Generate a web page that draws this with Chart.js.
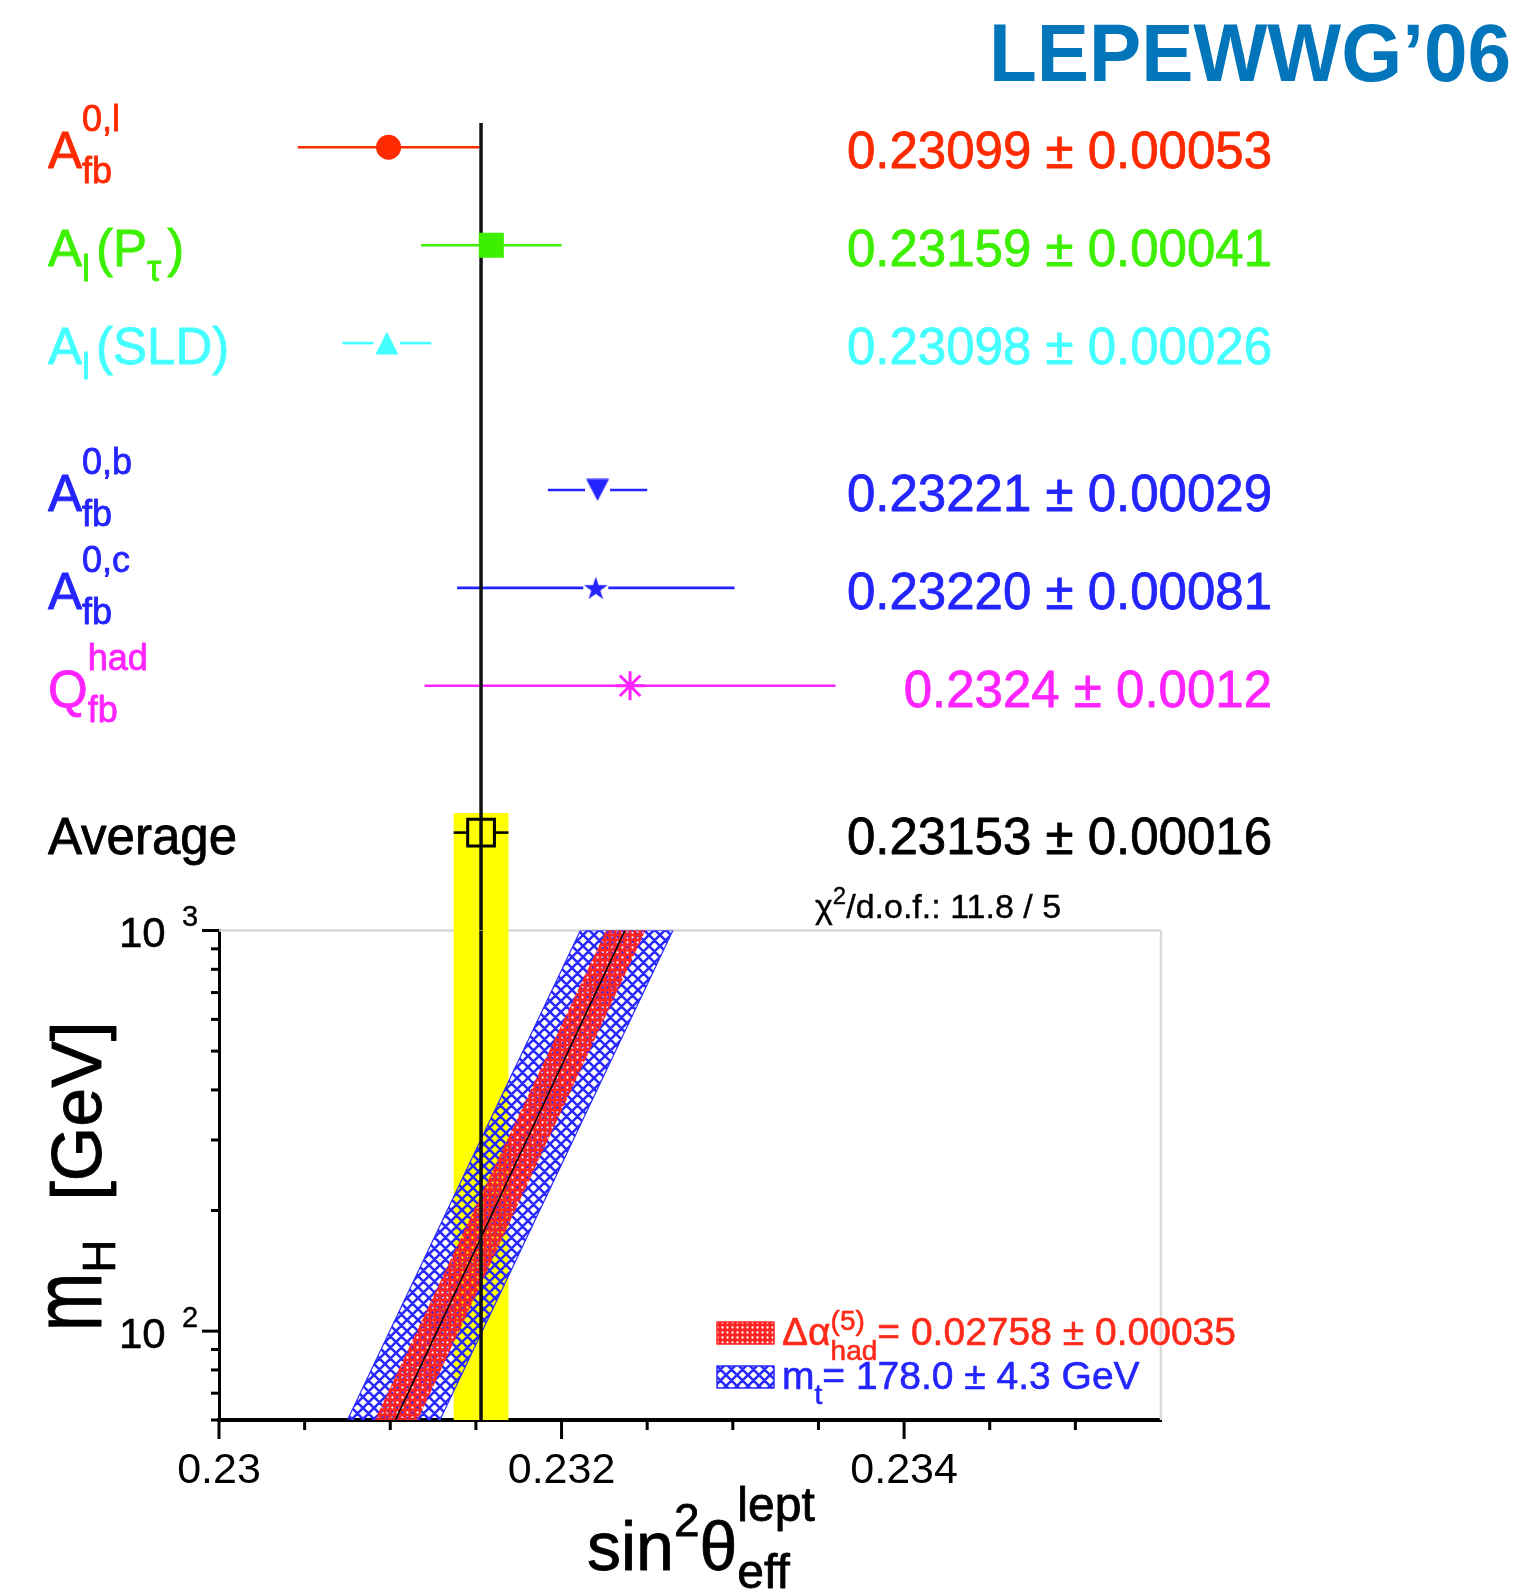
<!DOCTYPE html>
<html>
<head>
<meta charset="utf-8">
<title>sin2theta_eff^lept measurements and m_H dependence</title>
<script src="https://cdn.jsdelivr.net/npm/chart.js@4.4.1/dist/chart.umd.min.js"></script>
<style>
  html, body { margin: 0; padding: 0; background: #ffffff; }
  #wrap { position: relative; width: 1523px; height: 1593px; }
  canvas { display: block; }
</style>
</head>
<body>
<div id="wrap"><canvas id="chart" width="1523" height="1593"></canvas></div>
<script>
// ---------------------------------------------------------------------------
// Measurements of sin^2(theta_eff^lept)
// ---------------------------------------------------------------------------
const measurementLabels = [
  [['A'], ['fb', 'sub'], ['0,l', 'sup']],
  [['A'], ['l', 'sub'], ['(P'], ['τ', 'sub'], [')']],
  [['A'], ['l', 'sub'], ['(SLD)']],
  [['A'], ['fb', 'sub'], ['0,b', 'sup']],
  [['A'], ['fb', 'sub'], ['0,c', 'sup']],
  [['Q'], ['fb', 'sub'], ['had', 'sup']],
  [['Average']]
];
const measurementValues   = [0.23099, 0.23159, 0.23098, 0.23221, 0.23220, 0.2324, 0.23153];
const measurementErrors   = [0.00053, 0.00041, 0.00026, 0.00029, 0.00081, 0.0012, 0.00016];
const measurementDecimals = [5, 5, 5, 5, 5, 4, 5];
const measurementRows     = [0, 1, 2, 3.5, 4.5, 5.5, 7];
const AVERAGE_INDEX = 6;

// ---------------------------------------------------------------------------
// Standard Model prediction versus the Higgs mass (band edges at the mass ends)
// ---------------------------------------------------------------------------
const higgsMassRange   = [60, 1000];
const predictionCentre = [0.23103, 0.23237];
const alphaBandLow     = [0.23091, 0.23226];
const alphaBandHigh    = [0.23116, 0.23249];
const topBandLow       = [0.23075, 0.23211];
const topBandHigh      = [0.23129, 0.23265];

const chi2 = 11.8;
const degreesOfFreedom = 5;
const deltaAlphaHad = [0.02758, 0.00035];
const topMass = [178.0, 4.3];

// Axis ticks
const sinTickValues = [0.23, 0.2305, 0.231, 0.2315, 0.232, 0.2325, 0.233, 0.2335, 0.234, 0.2345, 0.235];
const sinTickLabels = ['0.23', '', '', '', '0.232', '', '', '', '0.234', '', ''];
const massTickValues = [60, 70, 80, 90, 100, 200, 300, 400, 500, 600, 700, 800, 900, 1000];
const massDecadeValues = [100, 1000];
const massDecadeExponents = ['2', '3'];

// ---------------------------------------------------------------------------
// Styling
// ---------------------------------------------------------------------------
const FONT = '"Liberation Sans", Arial, Helvetica, sans-serif';
const rowColors = ['#ff2a00', '#3cf000', '#44ffff', '#2424ff', '#2424ff', '#ff24ff', '#000000'];
const ROW_MIN = -0.25, ROW_MAX = 8;
const SIN_MIN = 0.23, SIN_MAX = 0.2355;
const BAND_RED = '#ff2424';
const BAND_BLUE = '#2a2aff';

const canvas = document.getElementById('chart');
const mainCtx = canvas.getContext('2d');

function makeTile(w, h, draw) {
  const c = document.createElement('canvas');
  c.width = w; c.height = h;
  draw(c.getContext('2d'), w, h);
  return c;
}

// dotted red fill for the delta-alpha band
const redPattern = mainCtx.createPattern(makeTile(5, 5, (g, w, h) => {
  g.fillStyle = BAND_RED; g.fillRect(0, 0, w, h);
  g.globalCompositeOperation = 'destination-out';
  g.beginPath(); g.arc(2.5, 2.5, 1.15, 0, Math.PI * 2); g.fill();
}), 'repeat');

// cross-hatched blue fill for the top-mass band
const bluePattern = mainCtx.createPattern(makeTile(11, 11, (g, w, h) => {
  g.strokeStyle = BAND_BLUE; g.lineWidth = 2.6;
  g.beginPath();
  for (const o of [-w, 0, w]) {
    g.moveTo(o, 0); g.lineTo(o + w, h);
    g.moveTo(o + w, 0); g.lineTo(o, h);
  }
  g.stroke();
}), 'repeat');

// marker images
const triangleUp = makeTile(24, 24, (g) => {
  g.fillStyle = rowColors[2];
  g.beginPath(); g.moveTo(12, 0.5); g.lineTo(23.5, 23.5); g.lineTo(0.5, 23.5); g.closePath(); g.fill();
});
const triangleDown = makeTile(24, 23, (g) => {
  g.fillStyle = rowColors[3];
  g.beginPath(); g.moveTo(0.5, 0.5); g.lineTo(23.5, 0.5); g.lineTo(12, 22.5); g.closePath(); g.fill();
});
const filledStar = makeTile(26, 24, (g) => {
  const R = 12.5, r = R * 0.382, cx = 13, cy = 13.2;
  g.fillStyle = rowColors[4];
  g.beginPath();
  for (let k = 0; k < 10; k++) {
    const rad = (k % 2 === 0) ? R : r;
    const a = -Math.PI / 2 + k * Math.PI / 5;
    const px = cx + rad * Math.cos(a), py = cy + rad * Math.sin(a);
    if (k === 0) g.moveTo(px, py); else g.lineTo(px, py);
  }
  g.closePath(); g.fill();
});

const markerStyles = [
  { style: 'circle', radius: 12.5, fill: rowColors[0], stroke: rowColors[0], width: 0 },
  { style: 'rect', radius: 17.7, fill: rowColors[1], stroke: rowColors[1], width: 0 },
  { style: triangleUp, radius: 12, fill: rowColors[2], stroke: rowColors[2], width: 0 },
  { style: triangleDown, radius: 12, fill: rowColors[3], stroke: rowColors[3], width: 0 },
  { style: filledStar, radius: 12, fill: rowColors[4], stroke: rowColors[4], width: 0 },
  { style: 'star', radius: 14.5, fill: 'rgba(0,0,0,0)', stroke: rowColors[5], width: 3 },
  { style: 'rect', radius: 18.9, fill: 'rgba(0,0,0,0)', stroke: '#000000', width: 3 }
];
const markerGaps = [0, 0, 13.3, 12.5, 12.5, 0, 13.5];

// ---------------------------------------------------------------------------
// Text helpers. Glyphs get a thin outline in their own colour for a slightly
// heavier stroke. In rich text a sub right after a sup (or the other way
// round) is stacked at the same x.
// ---------------------------------------------------------------------------
function paintText(ctx, text, x, y, weight) {
  ctx.fillText(text, x, y);
  if (weight > 0) {
    ctx.lineWidth = weight; ctx.lineJoin = 'round';
    ctx.strokeStyle = ctx.fillStyle;
    ctx.strokeText(text, x, y);
  }
}

function drawRich(ctx, parts, x, y, cfg) {
  let cx = x, scriptStart = x, lastMode = 'n', scriptEnd = x;
  const weight = cfg.weight || 0;
  for (const part of parts) {
    const text = part[0], mode = part[1] || 'n';
    const size = part[3] || (mode === 'n' ? cfg.size : (mode === 'sub' ? cfg.subSize : cfg.supSize));
    const dy = part[2] !== undefined ? part[2] : (mode === 'sub' ? cfg.subDy : (mode === 'sup' ? cfg.supDy : 0));
    ctx.font = `${size}px ${FONT}`;
    const w = ctx.measureText(text).width;
    if (mode !== 'n') {
      if (lastMode !== 'n' && lastMode !== mode) {
        paintText(ctx, text, scriptStart, y + dy, weight);
        scriptEnd = Math.max(scriptEnd, scriptStart + w);
        cx = scriptEnd;
      } else {
        scriptStart = cx;
        paintText(ctx, text, cx, y + dy, weight);
        cx += w; scriptEnd = cx;
      }
    } else {
      if (lastMode !== 'n') cx += (cfg.scriptGap || 0);
      paintText(ctx, text, cx, y, weight);
      cx += w;
    }
    lastMode = mode;
  }
  return cx;
}

function strokeLine(ctx, x1, y1, x2, y2) {
  ctx.beginPath(); ctx.moveTo(x1, y1); ctx.lineTo(x2, y2); ctx.stroke();
}

// ---------------------------------------------------------------------------
// Plugin: frame, average band, error bars, ticks and all annotation text
// ---------------------------------------------------------------------------
const decorations = {
  id: 'decorations',
  beforeDatasetsDraw(chart) {
    const ctx = chart.ctx;
    const xs = chart.scales.x, yr = chart.scales.yRow, yl = chart.scales.yLog;
    ctx.save();
    // light frame of the lower panel
    ctx.strokeStyle = '#d9d9d9'; ctx.lineWidth = 2.5;
    strokeLine(ctx, yl.right, yl.top, xs.right, yl.top);
    strokeLine(ctx, xs.right, yl.top, xs.right, yl.bottom);

    // average +/- error band
    const avg = measurementValues[AVERAGE_INDEX], avgErr = measurementErrors[AVERAGE_INDEX];
    const bx1 = xs.getPixelForValue(avg - avgErr), bx2 = xs.getPixelForValue(avg + avgErr);
    const bTop = yr.getPixelForValue(measurementRows[AVERAGE_INDEX] - 0.2);
    ctx.fillStyle = '#ffff00';
    ctx.fillRect(bx1, bTop, bx2 - bx1, yl.bottom - bTop);

    // horizontal error bars, interrupted behind open markers
    ctx.lineWidth = 2.6; ctx.lineCap = 'butt';
    measurementValues.forEach((v, i) => {
      const py = yr.getPixelForValue(measurementRows[i]);
      const lo = xs.getPixelForValue(v - measurementErrors[i]);
      const hi = xs.getPixelForValue(v + measurementErrors[i]);
      const c = xs.getPixelForValue(v);
      const gap = markerGaps[i];
      ctx.strokeStyle = rowColors[i];
      if (c - gap > lo) strokeLine(ctx, lo, py, c - gap, py);
      if (hi > c + gap) strokeLine(ctx, c + gap, py, hi, py);
    });
    ctx.restore();
  },
  afterDraw(chart) {
    const ctx = chart.ctx;
    const xs = chart.scales.x, yr = chart.scales.yRow, yl = chart.scales.yLog;
    ctx.save();
    ctx.textBaseline = 'alphabetic';

    // tick marks
    ctx.strokeStyle = '#000'; ctx.lineWidth = 3;
    sinTickValues.forEach((v, i) => {
      const px = xs.getPixelForValue(v);
      strokeLine(ctx, px, xs.top, px, xs.top + (sinTickLabels[i] ? 19 : 10));
    });
    massTickValues.forEach((v) => {
      const py = yl.getPixelForValue(v);
      const major = massDecadeValues.includes(v);
      strokeLine(ctx, yl.right - (major ? 17 : 8), py, yl.right, py);
    });

    // decade labels of the mass axis
    ctx.fillStyle = '#000'; ctx.textAlign = 'left';
    massDecadeValues.forEach((v, i) => {
      const py = yl.getPixelForValue(v);
      ctx.font = `42px ${FONT}`;
      paintText(ctx, '10', 119, py + 17, 0.5);
      ctx.font = `29px ${FONT}`;
      paintText(ctx, massDecadeExponents[i], 182, py - 4, 0.4);
    });

    // title
    ctx.fillStyle = '#0376bb'; ctx.textAlign = 'right';
    ctx.font = `bold 81px ${FONT}`;
    ctx.fillText('LEPEWWG\u201906', 1511, 81, 522);

    // row labels and values
    measurementValues.forEach((v, i) => {
      const py = yr.getPixelForValue(measurementRows[i]);
      ctx.fillStyle = rowColors[i];
      ctx.textAlign = 'left';
      drawRich(ctx, measurementLabels[i], 48, py + 21,
        { size: 51, subSize: 36, supSize: 36, subDy: 15, supDy: -37, scriptGap: 6, weight: 0.8 });
      ctx.textAlign = 'right';
      ctx.font = `51px ${FONT}`;
      const d = measurementDecimals[i];
      paintText(ctx, `${v.toFixed(d)} \u00b1 ${measurementErrors[i].toFixed(d)}`, 1272, py + 21, 0.8);
    });

    // fit quality
    ctx.textAlign = 'left'; ctx.fillStyle = '#000';
    drawRich(ctx, [['χ'], ['2', 'sup'], [`/d.o.f.: ${chi2.toFixed(1)} / ${degreesOfFreedom}`]],
      815, yl.top - 12, { size: 34, subSize: 24, supSize: 24, subDy: 8, supDy: -14, weight: 0.4 });

    // legend
    const legendRows = [
      { fill: redPattern, edge: BAND_RED, color: '#ff2a1a', y: 1345,
        parts: [['Δα'], ['(5)', 'sup'], ['had', 'sub'],
                [`= ${deltaAlphaHad[0].toFixed(5)} \u00b1 ${deltaAlphaHad[1].toFixed(5)}`]] },
      { fill: bluePattern, edge: BAND_BLUE, color: '#2424ff', y: 1389,
        parts: [['m'], ['t', 'sub'], [`= ${topMass[0].toFixed(1)} \u00b1 ${topMass[1].toFixed(1)} GeV`]] }
    ];
    legendRows.forEach((row) => {
      ctx.fillStyle = '#ffffff';
      ctx.fillRect(717, row.y - 23, 57, 22);
      ctx.fillStyle = row.fill;
      ctx.fillRect(717, row.y - 23, 57, 22);
      ctx.strokeStyle = row.edge; ctx.lineWidth = 1.5;
      ctx.strokeRect(717, row.y - 23, 57, 22);
      ctx.fillStyle = row.color;
      drawRich(ctx, row.parts, 782, row.y,
        { size: 39, subSize: 28, supSize: 28, subDy: 15, supDy: -15, weight: 0.6 });
    });

    // x axis title
    ctx.fillStyle = '#000';
    drawRich(ctx, [['sin'], ['2', 'sup', -34, 46], ['θ'], ['lept', 'sup', -49], ['eff', 'sub', 18]],
      587, 1570, { size: 68, subSize: 48, supSize: 48, subDy: 18, supDy: -49, weight: 0.8 });

    // y axis title (the m is drawn taller, as in the original typesetting)
    ctx.translate(101, 1331);
    ctx.rotate(-Math.PI / 2);
    ctx.font = `70px ${FONT}`;
    let pos = 0;
    ctx.save(); ctx.scale(1, 1.4); paintText(ctx, 'm', 0, 0, 0.7); ctx.restore();
    pos += ctx.measureText('m').width;
    ctx.font = `46px ${FONT}`;
    paintText(ctx, 'H', pos, 14, 0.7);
    pos += ctx.measureText('H').width;
    ctx.font = `70px ${FONT}`;
    paintText(ctx, '  [GeV]', pos, 0, 0.9);
    ctx.restore();
  }
};

// ---------------------------------------------------------------------------
// Datasets
// ---------------------------------------------------------------------------
const datasets = [];

measurementValues.forEach((v, i) => {
  const m = markerStyles[i];
  datasets.push({
    type: 'scatter',
    label: measurementLabels[i].map(p => p[0]).join(''),
    xAxisID: 'x', yAxisID: 'yRow',
    data: [{ x: v, y: measurementRows[i] }],
    pointStyle: m.style, pointRadius: m.radius,
    backgroundColor: m.fill, borderColor: m.stroke, borderWidth: m.width,
    order: 0
  });
});

const average = measurementValues[AVERAGE_INDEX];
datasets.push({
  type: 'line', label: 'average (upper)', xAxisID: 'x', yAxisID: 'yRow',
  data: [{ x: average, y: ROW_MIN }, { x: average, y: ROW_MAX }],
  borderColor: '#111111', borderWidth: 3.5, pointRadius: 0, fill: false, order: 1
});
datasets.push({
  type: 'line', label: 'average (lower)', xAxisID: 'x', yAxisID: 'yLog',
  data: [{ x: average, y: higgsMassRange[0] }, { x: average, y: higgsMassRange[1] }],
  borderColor: '#111111', borderWidth: 3.5, pointRadius: 0, fill: false, order: 1
});
datasets.push({
  type: 'line', label: 'SM prediction', xAxisID: 'x', yAxisID: 'yLog',
  data: higgsMassRange.map((m, k) => ({ x: predictionCentre[k], y: m })),
  borderColor: '#000000', borderWidth: 1.6, pointRadius: 0, fill: false, order: 2
});

function bandPolygon(low, high) {
  return [
    { x: low[0], y: higgsMassRange[0] }, { x: low[1], y: higgsMassRange[1] },
    { x: high[1], y: higgsMassRange[1] }, { x: high[0], y: higgsMassRange[0] }
  ];
}
datasets.push({
  type: 'line', label: 'Δα_had', xAxisID: 'x', yAxisID: 'yLog',
  data: bandPolygon(alphaBandLow, alphaBandHigh),
  backgroundColor: redPattern, borderColor: 'rgba(0,0,0,0)', borderWidth: 0,
  pointRadius: 0, fill: 'shape', order: 3
});
datasets.push({
  type: 'line', label: 'm_t', xAxisID: 'x', yAxisID: 'yLog',
  data: bandPolygon(topBandLow, topBandHigh),
  backgroundColor: bluePattern, borderColor: BAND_BLUE, borderWidth: 1.2,
  pointRadius: 0, fill: 'shape', order: 4
});

// ---------------------------------------------------------------------------
// Chart
// ---------------------------------------------------------------------------
new Chart(canvas, {
  type: 'scatter',
  data: { datasets },
  options: {
    responsive: false,
    devicePixelRatio: 1,
    animation: false,
    events: [],
    layout: { padding: { top: 122.8, right: 362, left: 0, bottom: 0 } },
    plugins: { legend: { display: false }, tooltip: { enabled: false } },
    scales: {
      yLog: {
        type: 'logarithmic', position: 'left', stack: 'panels', stackWeight: 5,
        min: higgsMassRange[0], max: higgsMassRange[1], z: 1,
        grid: { display: false, drawTicks: false },
        border: { display: true, color: '#000000', width: 3 },
        ticks: { display: false },
        afterFit: (s) => { s.width = 219; }
      },
      yRow: {
        type: 'linear', position: 'left', stack: 'panels', stackWeight: 8.25,
        min: ROW_MIN, max: ROW_MAX, reverse: true,
        grid: { display: false, drawTicks: false },
        border: { display: false },
        ticks: { display: false },
        afterFit: (s) => { s.width = 219; }
      },
      x: {
        type: 'linear', position: 'bottom', min: SIN_MIN, max: SIN_MAX, z: 1,
        grid: { display: false, drawTicks: false },
        border: { display: true, color: '#000000', width: 4 },
        afterBuildTicks: (s) => { s.ticks = sinTickValues.map(v => ({ value: v })); },
        ticks: {
          autoSkip: false, maxRotation: 0, padding: 25, color: '#000000',
          font: { family: FONT, size: 43 },
          callback: (value, index) => sinTickLabels[index]
        },
        afterFit: (s) => { s.height = 173; }
      }
    }
  },
  plugins: [decorations]
});
</script>
</body>
</html>
